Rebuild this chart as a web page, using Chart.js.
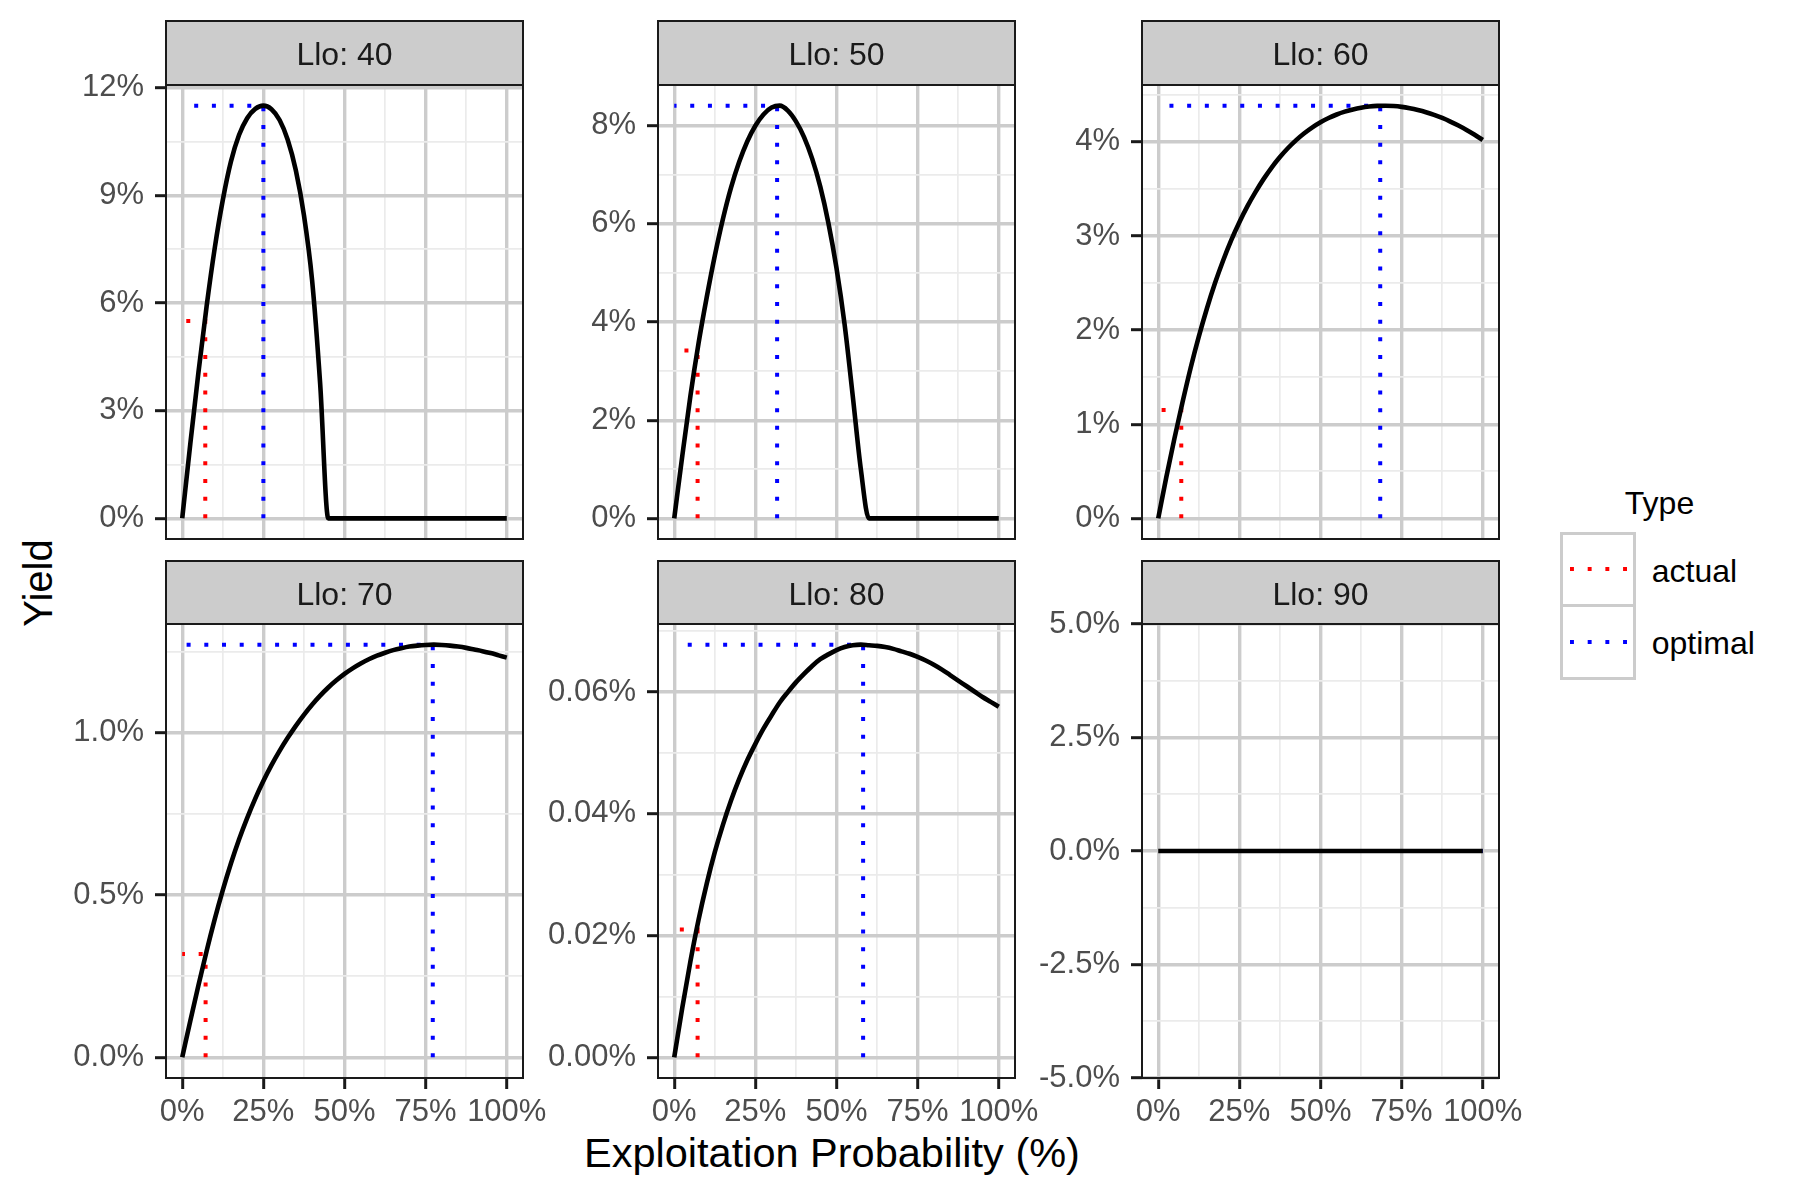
<!DOCTYPE html>
<html>
<head>
<meta charset="utf-8">
<script src="https://cdn.jsdelivr.net/npm/chart.js@4.4.1/dist/chart.umd.min.js"></script>
<style>
  body { margin: 0; width: 1800px; height: 1200px; background: #fff; position: relative; overflow: hidden;
         font-family: "Liberation Sans", Arial, sans-serif; }
  canvas.panel { position: absolute; }
  .txt { position: absolute; white-space: nowrap; color: #000; }
  .key { position: absolute; box-sizing: border-box; border: 3px solid #cccccc; background: #fff; }
  .dots { position: absolute; height: 4px; width: 60px; background-repeat: repeat-x; background-size: 17.7px 4px; }
</style>
</head>
<body>
<div class="txt" id="xtitle" style="left:332px; top:1133px; width:1000px; text-align:center; font-size:41.5px; line-height:40px;">Exploitation Probability (%)</div>
<div class="txt" id="ytitle" style="left:-62px; top:562.7px; width:200px; text-align:center; font-size:40px; line-height:40px; transform:rotate(-90deg);">Yield</div>

<div class="txt" style="left:1559.5px; top:487px; width:200px; text-align:center; font-size:32px; line-height:32px;">Type</div>
<div class="key" style="left:1560px; top:532px; width:76px; height:75px;"></div>
<div class="key" style="left:1560px; top:604px; width:76px; height:76px;"></div>
<div class="dots" style="left:1569.7px; top:567.3px; background-image:linear-gradient(to right, #ff0000 0 4px, transparent 4px 100%);"></div>
<div class="dots" style="left:1569.7px; top:639.7px; background-image:linear-gradient(to right, #0000ff 0 4px, transparent 4px 100%);"></div>
<div class="txt" style="left:1651.7px; top:554.6px; font-size:32px; line-height:32px;">actual</div>
<div class="txt" style="left:1651.7px; top:627px; font-size:32px; line-height:32px;">optimal</div>

<script>
// exploitation probability (%), shared by every panel
var probs = [0, 2.5, 5, 7.5, 10, 12.5, 15, 17.5, 20, 22.5, 25, 27.5, 30, 32.5, 35, 37.5, 40, 42.5, 45, 47.5,
             50, 52.5, 55, 57.5, 60, 62.5, 65, 67.5, 70, 72.5, 75, 77.5, 80, 82.5, 85, 87.5, 90, 92.5, 95, 97.5, 100];

// yield (%)
var yield40 = [0, 2.085, 4.07, 5.9, 7.52, 8.87, 9.94, 10.68, 11.15, 11.41, 11.5, 11.4, 11.1, 10.55, 9.7, 8.45, 6.65, 3.75, 0, 0,
               0, 0, 0, 0, 0, 0, 0, 0, 0, 0, 0, 0, 0, 0, 0, 0, 0, 0, 0, 0, 0];
var yield50 = [0, 1.28, 2.5, 3.57, 4.5, 5.35, 6.1, 6.74, 7.26, 7.68, 8.0, 8.23, 8.37, 8.41, 8.31, 8.09, 7.77, 7.33, 6.76, 6.02,
               5.1, 3.95, 2.5, 1.0, 0, 0, 0, 0, 0, 0, 0, 0, 0, 0, 0, 0, 0, 0, 0, 0, 0];
var yield60 = [0, 0.44, 0.85, 1.235, 1.6, 1.93, 2.23, 2.5, 2.74, 2.956, 3.147, 3.318, 3.469, 3.607, 3.73, 3.839, 3.935, 4.019, 4.092, 4.155,
               4.209, 4.254, 4.291, 4.321, 4.345, 4.363, 4.375, 4.382, 4.384, 4.381, 4.372, 4.357, 4.338, 4.315, 4.287, 4.254, 4.216, 4.174, 4.127, 4.076, 4.02];
var yield70 = [0, 0.113, 0.222, 0.327, 0.425, 0.515, 0.597, 0.671, 0.737, 0.797, 0.851, 0.9, 0.944, 0.984, 1.021, 1.055, 1.086, 1.114, 1.139, 1.161,
               1.181, 1.198, 1.213, 1.226, 1.237, 1.246, 1.254, 1.26, 1.265, 1.268, 1.27, 1.271, 1.27, 1.268, 1.265, 1.261, 1.256, 1.251, 1.245, 1.238, 1.231];
var yield80 = [0, 0.0082, 0.0158, 0.0226, 0.0285, 0.0337, 0.0382, 0.0422, 0.0457, 0.0488, 0.0515, 0.054, 0.0562, 0.0583, 0.06, 0.0616, 0.063, 0.0643, 0.0654, 0.0662,
               0.0669, 0.0674, 0.0677, 0.0678, 0.0677, 0.0676, 0.0674, 0.0671, 0.0667, 0.0663, 0.0658, 0.0652, 0.0645, 0.0637, 0.0628, 0.0619, 0.061, 0.0601, 0.0592, 0.0584, 0.0576];
var yield90 = [0, 0, 0, 0, 0, 0, 0, 0, 0, 0, 0, 0, 0, 0, 0, 0, 0, 0, 0, 0,
               0, 0, 0, 0, 0, 0, 0, 0, 0, 0, 0, 0, 0, 0, 0, 0, 0, 0, 0, 0, 0];

var lloLevels = [40, 50, 60, 70, 80, 90];
var actualX  = [7.1, 7.2, 7.1, 7.2, 7.2, 7.1];
var actualY  = [5.5, 3.42, 1.15, 0.318, 0.021, 0];
var optimalX = [25, 31.7, 68.4, 77.2, 58.2, 100];
var optimalY = [11.5, 8.41, 4.385, 1.271, 0.0678, 0];

var xMajorTicks = [0, 25, 50, 75, 100];
var yMajorTicks = [[0, 3, 6, 9, 12], [0, 2, 4, 6, 8], [0, 1, 2, 3, 4],
                   [0, 0.5, 1.0], [0, 0.02, 0.04, 0.06], [-5, -2.5, 0, 2.5, 5]];
var yLabelDigits = [0, 0, 0, 1, 2, 1];

var yieldSeries = [yield40, yield50, yield60, yield70, yield80, yield90];

Chart.defaults.font.family = '"Liberation Sans", Arial, sans-serif';

var colLeft = [166, 658, 1142];
var stripTop = [21, 561];
var plotTop = [85, 624];
var plotW = 357, plotH = 454, axisW = 150;

function withMinor(majors, lo, hi) {
  var step = majors[1] - majors[0];
  var out = [];
  for (var k = -4; k <= majors.length * 2 + 4; k++) {
    var v = majors[0] + k * step / 2;
    if (v >= lo - 1e-9 && v <= hi + 1e-9) out.push(v);
  }
  return out;
}
function isMajorOf(majors) {
  var step = majors[1] - majors[0];
  return function (v) {
    return majors.some(function (m) { return Math.abs(m - v) < step * 1e-3; });
  };
}

// grey facet strip above each panel + black panel frame
var stripPlugin = {
  id: 'facetStrip',
  beforeDraw: function (chart) {
    var a = chart.chartArea, ctx = chart.ctx;
    ctx.save();
    ctx.fillStyle = '#cccccc';
    ctx.fillRect(a.left, 2, a.right - a.left, a.top - 2);
    ctx.restore();
  },
  afterDraw: function (chart) {
    var a = chart.chartArea, ctx = chart.ctx;
    ctx.save();
    ctx.strokeStyle = '#1a1a1a';
    ctx.lineWidth = 2;
    ctx.strokeRect(a.left, 2, a.right - a.left, a.top - 2);
    ctx.strokeRect(a.left, a.top, a.right - a.left, a.bottom - a.top);
    ctx.restore();
  }
};

function buildPanel(i) {
  var row = Math.floor(i / 3), col = i % 3;
  var yields = yieldSeries[i];
  var hi = Math.max.apply(null, yields.concat([optimalY[i]]));
  var lo = Math.min.apply(null, yields.concat([0]));
  var yMin, yMax;
  if (hi - lo === 0) { yMin = lo - 5; yMax = hi + 5; }
  else { var pad = (hi - lo) * 0.05; yMin = lo - pad; yMax = hi + pad; }

  var majorsY = yMajorTicks[i];
  var yTickVals = withMinor(majorsY, yMin, yMax);
  var isMajorY = isMajorOf(majorsY);
  var xTickVals = withMinor(xMajorTicks, -5, 105);
  var isMajorX = isMajorOf(xMajorTicks);

  var stripH = plotTop[row] - stripTop[row];
  var bottomAxis = row === 1;
  var padBottom = bottomAxis ? 0 : 30;

  var canvas = document.createElement('canvas');
  canvas.className = 'panel';
  canvas.width = axisW + plotW + 40;
  canvas.height = 2 + stripH + plotH + (bottomAxis ? 80 : padBottom);
  canvas.style.left = (colLeft[col] - axisW) + 'px';
  canvas.style.top = (stripTop[row] - 2) + 'px';
  document.body.appendChild(canvas);

  var tickFont = { size: 31 };

  new Chart(canvas, {
    type: 'line',
    data: {
      datasets: [
        {
          label: 'yield',
          data: probs.map(function (p, k) { return { x: p, y: yields[k] }; }),
          borderColor: '#000000', borderWidth: 4.6, pointRadius: 0,
          cubicInterpolationMode: 'monotone', order: 0
        },
        {
          label: 'actual',
          data: [{ x: actualX[i], y: 0 }, { x: actualX[i], y: actualY[i] }, { x: 0, y: actualY[i] }],
          borderColor: '#ff0000', borderWidth: 4, borderDash: [4, 13.7], borderCapStyle: 'butt',
          pointRadius: 0, tension: 0, order: 1
        },
        {
          label: 'optimal',
          data: [{ x: optimalX[i], y: 0 }, { x: optimalX[i], y: optimalY[i] }, { x: 0, y: optimalY[i] }],
          borderColor: '#0000ff', borderWidth: 4, borderDash: [4, 13.7], borderCapStyle: 'butt',
          pointRadius: 0, tension: 0, order: 1
        }
      ]
    },
    options: {
      responsive: false,
      animation: false,
      devicePixelRatio: 1,
      layout: { padding: { top: 2, right: 40, bottom: padBottom, left: 0 } },
      plugins: {
        legend: { display: false },
        tooltip: { enabled: false },
        title: {
          display: true,
          text: 'Llo: ' + lloLevels[i],
          fullSize: false,
          color: '#1a1a1a',
          font: { size: 32, weight: 'normal', lineHeight: 1.2 },
          padding: { top: 15.5, bottom: stripH - 38.4 - 15.5 }
        }
      },
      scales: {
        x: {
          type: 'linear', min: -5, max: 105,
          afterBuildTicks: function (s) { s.ticks = xTickVals.map(function (v) { return { value: v }; }); },
          afterFit: function (s) { s.height = bottomAxis ? 80 : 0; },
          border: { display: false },
          grid: {
            color: function (c) { return c.tick && isMajorX(c.tick.value) ? '#cccccc' : '#ebebeb'; },
            lineWidth: function (c) { return c.tick && isMajorX(c.tick.value) ? 3.4 : 1.7; },
            drawTicks: bottomAxis, tickLength: 11, tickWidth: 3,
            tickColor: function (c) { return c.tick && isMajorX(c.tick.value) ? '#1a1a1a' : 'rgba(0,0,0,0)'; }
          },
          ticks: {
            display: bottomAxis, autoSkip: false, maxRotation: 0, padding: 5,
            color: '#4d4d4d', font: tickFont,
            callback: function (v) { return isMajorX(v) ? v + '%' : ''; }
          }
        },
        y: {
          type: 'linear', min: yMin, max: yMax,
          afterBuildTicks: function (s) { s.ticks = yTickVals.map(function (v) { return { value: v }; }); },
          afterFit: function (s) { s.width = axisW; },
          border: { display: false },
          grid: {
            color: function (c) { return c.tick && isMajorY(c.tick.value) ? '#cccccc' : '#ebebeb'; },
            lineWidth: function (c) { return c.tick && isMajorY(c.tick.value) ? 3.4 : 1.7; },
            tickLength: 11, tickWidth: 3,
            tickColor: function (c) { return c.tick && isMajorY(c.tick.value) ? '#1a1a1a' : 'rgba(0,0,0,0)'; }
          },
          ticks: {
            autoSkip: false, padding: 11, color: '#4d4d4d', font: tickFont,
            callback: function (v) { return isMajorY(v) ? v.toFixed(yLabelDigits[i]) + '%' : ''; }
          }
        }
      }
    },
    plugins: [stripPlugin]
  });
}

for (var p = 0; p < lloLevels.length; p++) buildPanel(p);
</script>
</body>
</html>
